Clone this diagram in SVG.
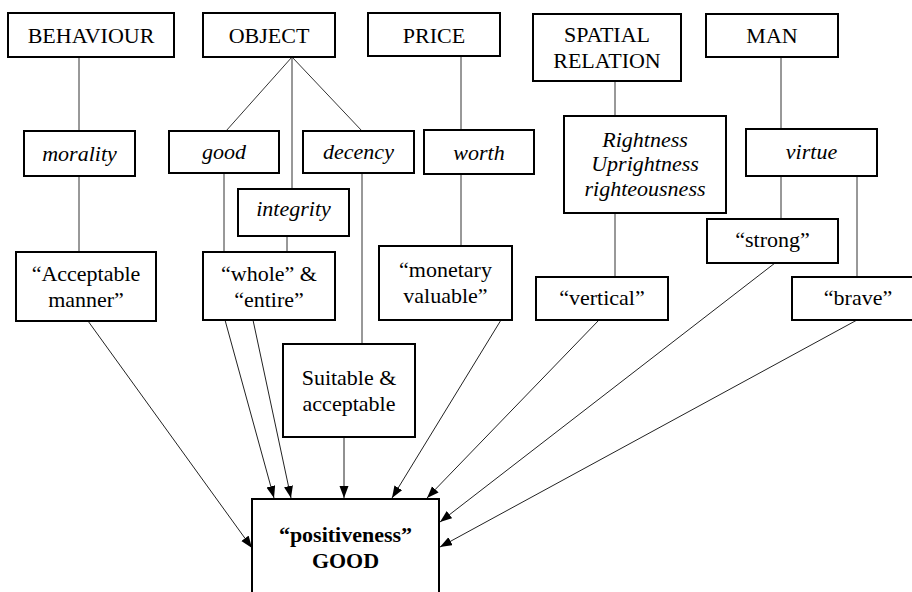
<svg xmlns="http://www.w3.org/2000/svg" width="912" height="592" viewBox="0 0 912 592">
<style>
  .box { fill: #fff; stroke: #000; stroke-width: 2; }
  text { font-family: 'Liberation Serif', 'Times New Roman', Times, 'DejaVu Serif', serif; font-size: 22px; fill: #000; text-anchor: middle; }
  .i { font-style: italic; }
  .b { font-weight: bold; }
  .ln { stroke: #333; stroke-width: 1; fill: none; }
  .ar { stroke: #222; stroke-width: 1; fill: none; marker-end: url(#arrow); }
</style>
<defs>
  <marker id="arrow" markerUnits="userSpaceOnUse" markerWidth="13" markerHeight="10" refX="12" refY="4.5" orient="auto">
    <path d="M0,0 L12,4.5 L0,9 z" fill="#000"/>
  </marker>
</defs>
<rect width="912" height="592" fill="#fff"/>
<g id="connectors">
  <line class="ln" x1="79" y1="57" x2="79" y2="131"/>
  <line class="ln" x1="292" y1="57" x2="226" y2="131"/>
  <line class="ln" x1="292" y1="57" x2="292" y2="189"/>
  <line class="ln" x1="292" y1="57" x2="362" y2="131"/>
  <line class="ln" x1="461" y1="56" x2="461" y2="130"/>
  <line class="ln" x1="615" y1="81" x2="615" y2="116"/>
  <line class="ln" x1="781" y1="57" x2="781" y2="129"/>
  <line class="ln" x1="79" y1="176" x2="79" y2="252"/>
  <line class="ln" x1="224" y1="173" x2="224" y2="252"/>
  <line class="ln" x1="287" y1="236" x2="287" y2="252"/>
  <line class="ln" x1="362" y1="173" x2="362" y2="344"/>
  <line class="ln" x1="461" y1="174" x2="461" y2="246"/>
  <line class="ln" x1="615" y1="213" x2="615" y2="277"/>
  <line class="ln" x1="781" y1="176" x2="781" y2="219"/>
  <line class="ln" x1="857" y1="176" x2="857" y2="277"/>
  <line class="ar" x1="88" y1="321" x2="252" y2="548"/>
  <line class="ar" x1="225" y1="320" x2="274" y2="498"/>
  <line class="ar" x1="253" y1="320" x2="291" y2="498"/>
  <line class="ar" x1="344" y1="437" x2="344" y2="498"/>
  <line class="ar" x1="501" y1="320" x2="392" y2="498"/>
  <line class="ar" x1="599" y1="320" x2="427" y2="498"/>
  <line class="ar" x1="775" y1="263" x2="440" y2="522"/>
  <line class="ar" x1="857" y1="320" x2="440" y2="547"/>
</g>
<g id="behaviour"><rect class="box" x="8" y="13" width="166" height="44"/><text x="91" y="43">BEHAVIOUR</text></g>
<g id="object"><rect class="box" x="203" y="13" width="132" height="44"/><text x="269" y="43">OBJECT</text></g>
<g id="price"><rect class="box" x="368" y="13" width="132" height="43"/><text x="434" y="43">PRICE</text></g>
<g id="spatial"><rect class="box" x="533" y="14" width="148" height="67"/><text x="607" y="42">SPATIAL</text><text x="607" y="68">RELATION</text></g>
<g id="man"><rect class="box" x="706" y="14" width="132" height="43"/><text x="772" y="43">MAN</text></g>
<g id="morality"><rect class="box" x="24" y="131" width="111" height="45"/><text class="i" x="79.5" y="161">morality</text></g>
<g id="good"><rect class="box" x="169" y="131" width="110" height="42"/><text class="i" x="224" y="159">good</text></g>
<g id="decency"><rect class="box" x="303" y="131" width="111" height="42"/><text class="i" x="358.5" y="159">decency</text></g>
<g id="worth"><rect class="box" x="424" y="130" width="110" height="44"/><text class="i" x="479" y="160">worth</text></g>
<g id="rightness"><rect class="box" x="564" y="116" width="162" height="97"/><text class="i" x="645" y="147">Rightness</text><text class="i" x="645" y="171">Uprightness</text><text class="i" x="645" y="196">righteousness</text></g>
<g id="virtue"><rect class="box" x="746" y="129" width="131" height="47"/><text class="i" x="811.5" y="159">virtue</text></g>
<g id="integrity"><rect class="box" x="238" y="189" width="111" height="47"/><text class="i" x="293.5" y="216">integrity</text></g>
<g id="acceptable-manner"><rect class="box" x="16" y="252" width="140" height="69"/><text x="86" y="281">“Acceptable</text><text x="86" y="307">manner”</text></g>
<g id="whole-entire"><rect class="box" x="203" y="252" width="132" height="68"/><text x="269" y="281">“whole” &amp;</text><text x="269" y="307">“entire”</text></g>
<g id="monetary"><rect class="box" x="379" y="246" width="133" height="74"/><text x="445.5" y="277">“monetary</text><text x="445.5" y="303">valuable”</text></g>
<g id="strong"><rect class="box" x="707" y="219" width="131" height="44"/><text x="772.5" y="247">“strong”</text></g>
<g id="vertical"><rect class="box" x="536" y="277" width="132" height="43"/><text x="602" y="305">“vertical”</text></g>
<g id="brave"><rect class="box" x="792" y="277" width="130" height="43"/><text x="858" y="305">“brave”</text></g>
<g id="suitable"><rect class="box" x="283" y="344" width="132" height="93"/><text x="349" y="385">Suitable &amp;</text><text x="349" y="411">acceptable</text></g>
<g id="positiveness"><rect class="box" x="252" y="499" width="187" height="100"/><text class="b" x="345.5" y="542">“positiveness”</text><text class="b" x="345.5" y="568">GOOD</text></g>
</svg>
